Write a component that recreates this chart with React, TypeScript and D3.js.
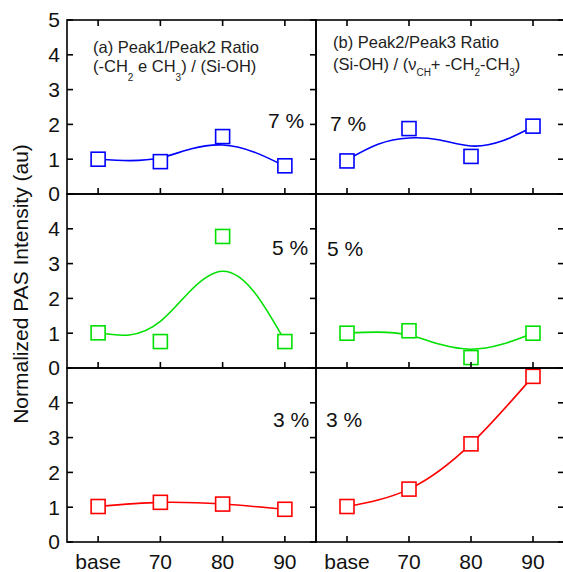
import React from "react";
import * as d3 from "d3";

// Categories along the x axis (annealing step)
const categories = ["base", "70", "80", "90"];
const yTickValues = [0, 1, 2, 3, 4, 5];
// Positions (in category units) where the smoothed fit curves are sampled
const fitSteps = [0, 0.5, 1, 1.5, 2, 2.5, 3];

// (a) Peak1/Peak2 ratio
const ratioA7 = [1.0, 0.93, 1.65, 0.81];
const ratioA5 = [1.01, 0.76, 3.78, 0.76];
const ratioA3 = [1.02, 1.14, 1.09, 0.94];
const fitA7 = [1.0, 0.96, 1.04, 1.3, 1.41, 1.21, 0.8];
const fitA5 = [1.02, 0.95, 1.34, 2.25, 2.78, 2.2, 0.78];

// (b) Peak2/Peak3 ratio
const ratioB7 = [0.95, 1.88, 1.08, 1.95];
const ratioB5 = [1.0, 1.07, 0.3, 1.0];
const ratioB3 = [1.02, 1.52, 2.82, 4.76];
const fitB7 = [0.98, 1.43, 1.61, 1.55, 1.38, 1.52, 1.93];
const fitB5 = [1.0, 1.03, 0.94, 0.68, 0.54, 0.68, 1.0];

const concentrations = ["7 %", "5 %", "3 %"];
const colors = ["#0000ff", "#00e000", "#ff0000"];

const FONT = "'Liberation Sans', Arial, Helvetica, sans-serif";
const W = 563;
const H = 572;
const TOP = 20;
const ROW_H = 174;
const COLS = [
  { x0: 67, x1: 316 },
  { x0: 316, x1: 564 },
];
const TICK = 6;

type PanelData = {
  points: number[];
  fitX: number[];
  fitY: number[];
  color: string;
  label: string;
  labelX: number;
  labelDy: number;
};

const panels: PanelData[][] = [
  [
    { points: ratioA7, fitX: fitSteps, fitY: fitA7, color: colors[0], label: concentrations[0], labelX: 268, labelDy: 108 },
    { points: ratioA5, fitX: fitSteps, fitY: fitA5, color: colors[1], label: concentrations[1], labelX: 272, labelDy: 61 },
    { points: ratioA3, fitX: [0, 1, 2, 3], fitY: ratioA3, color: colors[2], label: concentrations[2], labelX: 273, labelDy: 59 },
  ],
  [
    { points: ratioB7, fitX: fitSteps, fitY: fitB7, color: colors[0], label: concentrations[0], labelX: 330, labelDy: 111 },
    { points: ratioB5, fitX: fitSteps, fitY: fitB5, color: colors[1], label: concentrations[1], labelX: 327, labelDy: 62 },
    { points: ratioB3, fitX: [0, 1, 2, 3], fitY: ratioB3, color: colors[2], label: concentrations[2], labelX: 326, labelDy: 59 },
  ],
];

function Panel({ col, row, d }: { col: number; row: number; d: PanelData }) {
  const { x0, x1 } = COLS[col];
  const top = TOP + row * ROW_H;
  const bottom = top + ROW_H;
  const x = d3.scaleLinear().domain([-0.5, 3.5]).range([x0, x1]);
  const y = d3.scaleLinear().domain([0, 5]).range([bottom, top]);
  const line = d3
    .line<number>()
    .x((_, i) => x(d.fitX[i]))
    .y((v) => y(v))
    .curve(d3.curveNatural);
  const ms = 14;
  return (
    <g>
      <path d={line(d.fitY) || ""} fill="none" stroke={d.color} strokeWidth={1.6} />
      {d.points.map((v, i) => (
        <rect
          key={i}
          x={x(i) - ms / 2}
          y={y(v) - ms / 2}
          width={ms}
          height={ms}
          fill="#fff"
          stroke={d.color}
          strokeWidth={1.6}
        />
      ))}
      <text x={d.labelX} y={top + d.labelDy} fontSize={21} fontFamily={FONT} fill="#111">
        {d.label}
      </text>
    </g>
  );
}

function Frame({ col, row }: { col: number; row: number }) {
  const { x0, x1 } = COLS[col];
  const top = TOP + row * ROW_H;
  const bottom = top + ROW_H;
  const x = d3.scaleLinear().domain([-0.5, 3.5]).range([x0, x1]);
  const y = d3.scaleLinear().domain([0, 5]).range([bottom, top]);
  const s = { stroke: "#000", strokeWidth: 1.6 };
  return (
    <g>
      <rect x={x0} y={top} width={x1 - x0} height={ROW_H} fill="none" {...s} />
      {categories.map((_, i) => (
        <g key={i}>
          <line x1={x(i)} x2={x(i)} y1={bottom} y2={bottom - TICK} {...s} />
          {row === 0 && <line x1={x(i)} x2={x(i)} y1={top} y2={top + TICK} {...s} />}
        </g>
      ))}
      {yTickValues.map((v) => (
        <g key={v}>
          {col === 0 && <line x1={x0} x2={x0 + TICK} y1={y(v)} y2={y(v)} {...s} />}
          <line x1={x1} x2={x1 - TICK} y1={y(v)} y2={y(v)} {...s} />
        </g>
      ))}
      {col === 0 &&
        yTickValues
          .filter((v) => row === 0 || v < 5)
          .map((v) => (
            <text
              key={v}
              x={60}
              y={y(v)}
              dy="0.35em"
              textAnchor="end"
              fontSize={21}
              fontFamily={FONT}
              fill="#111"
            >
              {v}
            </text>
          ))}
      {row === 2 &&
        categories.map((c, i) => (
          <text key={c} x={x(i)} y={569} textAnchor="middle" fontSize={21} fontFamily={FONT} fill="#111">
            {c}
          </text>
        ))}
    </g>
  );
}

export default function App() {
  return (
    <svg width={W} height={H} style={{ display: "block", position: "absolute", left: 0, top: 0 }}>
      <rect width={W} height={H} fill="#fff" />
      {panels.map((colPanels, col) =>
        colPanels.map((d, row) => <Panel key={`${col}-${row}`} col={col} row={row} d={d} />)
      )}
      {panels.map((colPanels, col) =>
        colPanels.map((_, row) => <Frame key={`f${col}-${row}`} col={col} row={row} />)
      )}
      <text
        transform="translate(28,284) rotate(-90)"
        textAnchor="middle"
        fontSize={21}
        fontFamily={FONT}
        fill="#111"
      >
        Normalized PAS Intensity (au)
      </text>
      <g fontFamily={FONT} fontSize={16.5} fill="#222">
        <text x={93} y={53}>(a) Peak1/Peak2 Ratio</text>
        <text x={93} y={72}>
          (-CH
          <tspan dy={9} fontSize={10}>2</tspan>
          <tspan dy={-9}> e CH</tspan>
          <tspan dy={9} fontSize={10}>3</tspan>
          <tspan dy={-9}>) / (Si-OH)</tspan>
        </text>
        <text x={333} y={48}>(b) Peak2/Peak3 Ratio</text>
        <text x={333} y={70}>
          (Si-OH) / (ν
          <tspan dy={6} fontSize={10}>CH</tspan>
          <tspan dy={-6}>+ -CH</tspan>
          <tspan dy={6} fontSize={10}>2</tspan>
          <tspan dy={-6}>-CH</tspan>
          <tspan dy={6} fontSize={10}>3</tspan>
          <tspan dy={-6}>)</tspan>
        </text>
      </g>
    </svg>
  );
}
